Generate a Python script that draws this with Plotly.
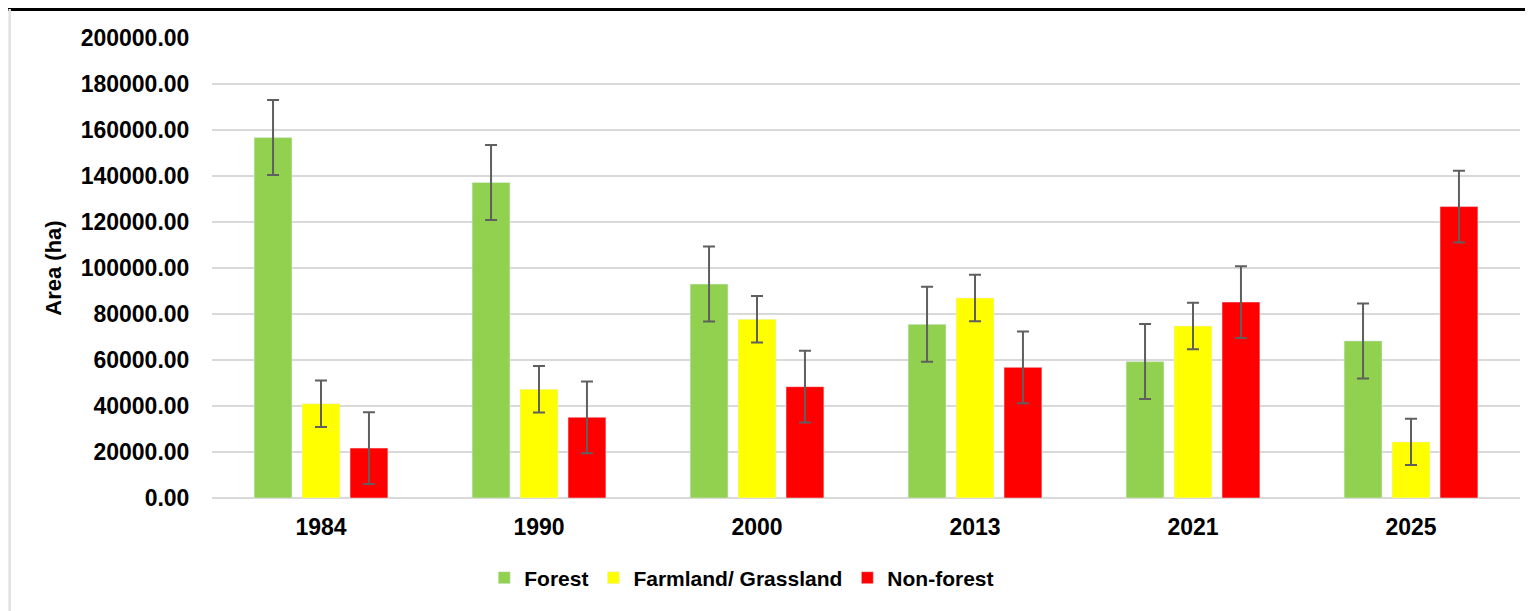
import plotly.graph_objects as go

years = ["1984", "1990", "2000", "2013", "2021", "2025"]
forest = [156700, 137200, 93000, 75500, 59300, 68300]
forest_err = [16300, 16300, 16300, 16300, 16300, 16300]
farmland = [41000, 47300, 77700, 87000, 74800, 24400]
farmland_err = [10100, 10100, 10100, 10100, 10100, 10100]
nonforest = [21700, 35100, 48400, 56800, 85200, 126700]
nonforest_err = [15600, 15600, 15600, 15600, 15600, 15600]
y_ticks = [0, 20000, 40000, 60000, 80000, 100000, 120000, 140000, 160000, 180000, 200000]

FONT = "Liberation Sans, Arial, sans-serif"
ERR_COLOR = "#5f5f5f"

# page body has an 8px margin: figure origin sits at (8, 8) in the window
L, T, PW, PH = 204, 30, 1308, 460
W, H = 1533, 611

def err(arr):
    return dict(type="data", array=arr, visible=True, color=ERR_COLOR, thickness=2, width=6)

fig = go.Figure()
fig.add_trace(go.Bar(name="Forest", x=years, y=forest, marker_color="#92D050",
                     error_y=err(forest_err)))
fig.add_trace(go.Bar(name="Farmland/ Grassland", x=years, y=farmland, marker_color="#FFFF00",
                     error_y=err(farmland_err)))
fig.add_trace(go.Bar(name="Non-forest", x=years, y=nonforest, marker_color="#FF0000",
                     error_y=err(nonforest_err)))

fig.update_layout(
    width=W, height=H,
    margin=dict(l=L, r=W - L - PW, t=T, b=H - T - PH),
    paper_bgcolor="white", plot_bgcolor="white",
    barmode="group", bargap=0.34, bargroupgap=0.21,
    font=dict(family=FONT, color="black"),
    showlegend=True,
    legend=dict(orientation="h", x=0.405, xanchor="center", y=-0.174, yanchor="middle",
                font=dict(size=21, family=FONT, color="black", weight="bold"),
                itemwidth=30, traceorder="normal"),
    shapes=[
        dict(type="line", xref="paper", yref="paper",
             x0=-L / PW, x1=(W - L) / PW, y0=(T + PH - 1.5) / PH, y1=(T + PH - 1.5) / PH,
             line=dict(color="black", width=3)),
        dict(type="line", xref="paper", yref="paper",
             x0=(1.7 - L) / PW, x1=(1.7 - L) / PW, y0=(T + PH - 1) / PH, y1=(T + PH - H) / PH,
             line=dict(color="#e0e0e0", width=2.5)),
    ],
)
fig.update_xaxes(showgrid=False, showline=False, zeroline=False,
                 ticks="outside", ticklen=8, tickcolor="rgba(0,0,0,0)",
                 tickfont=dict(size=23, family=FONT, color="black", weight="bold"))
fig.update_yaxes(range=[0, 200000], tickvals=y_ticks,
                 ticktext=[f"{v:.2f}" for v in y_ticks],
                 showgrid=True, gridcolor="#d9d9d9", gridwidth=1.5,
                 zeroline=True, zerolinecolor="#d9d9d9", zerolinewidth=1.5,
                 showline=False,
                 ticks="outside", ticklen=17, tickcolor="rgba(0,0,0,0)",
                 tickfont=dict(size=23, family=FONT, color="black", weight="bold"),
                 title_text="Area (ha)", title_standoff=12,
                 title_font=dict(size=22, family=FONT, color="black", weight="bold"))

fig.write_html("out.html")
